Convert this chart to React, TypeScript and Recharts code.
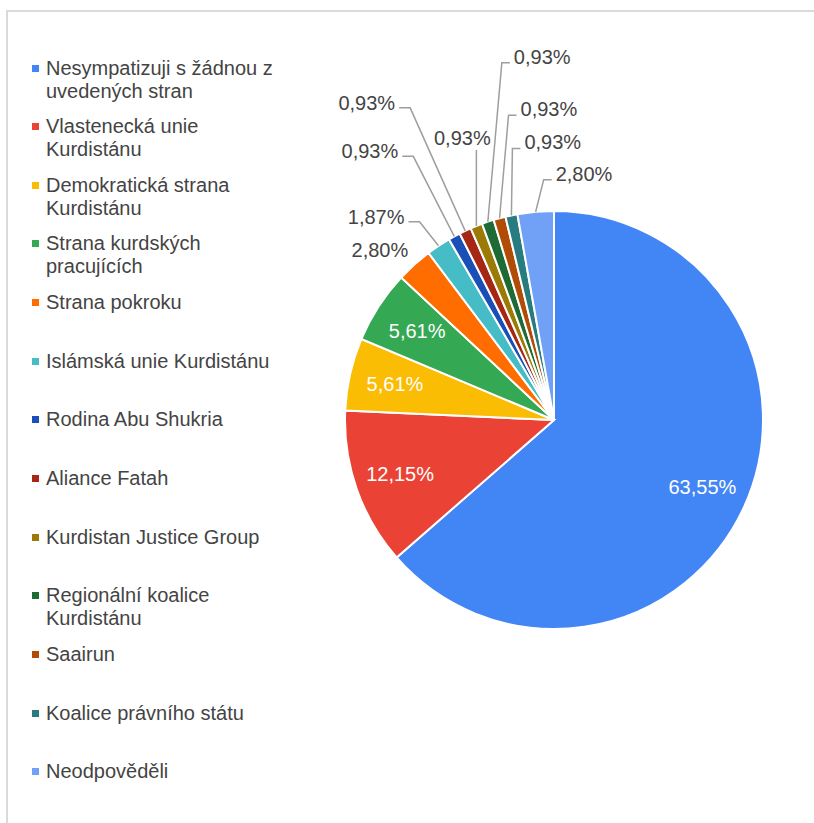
import { Legend, Pie, PieChart, Cell } from "recharts";

const parties = [
  "Nesympatizuji s žádnou z uvedených stran",
  "Vlastenecká unie Kurdistánu",
  "Demokratická strana Kurdistánu",
  "Strana kurdských pracujících",
  "Strana pokroku",
  "Islámská unie Kurdistánu",
  "Rodina Abu Shukria",
  "Aliance Fatah",
  "Kurdistan Justice Group",
  "Regionální koalice Kurdistánu",
  "Saairun",
  "Koalice právního státu",
  "Neodpověděli",
];

const shares = [63.55, 12.15, 5.61, 5.61, 2.8, 1.87, 0.93, 0.93, 0.93, 0.93, 0.93, 0.93, 2.8];

const colors = [
  "#4285f4", "#ea4335", "#fbbc04", "#34a853", "#ff6d01", "#46bdc6",
  "#1a4fb8", "#a52714", "#9c7a06", "#1e6b35", "#b04c06", "#287c7f", "#70a1f6",
];

const data = parties.map((name, i) => ({ name, value: shares[i] }));

// leader-line layout for the small slices (elbow offset from the slice edge)
const callouts: Record<number, { side: string; run: number; rise: number }> = {
  4: { side: "near", run: 0, rise: 0 },
  5: { side: "left", run: -19, rise: 24 },
  6: { side: "left", run: -41, rise: 80 },
  7: { side: "left", run: -55, rise: 123 },
  8: { side: "up", run: 0, rise: 76 },
  9: { side: "right", run: 14, rise: 159 },
  10: { side: "right", run: 9, rise: 103 },
  11: { side: "right", run: 1, rise: 67 },
  12: { side: "right", run: 8, rise: 32 },
};

const FONT = "'Liberation Sans', Arial, sans-serif";
const TEXT = "#444";
const RAD = Math.PI / 180;

const fmt = (v: number) => v.toFixed(2).replace(".", ",") + "%";

function renderLabel(props: any) {
  const { cx, cy, midAngle, outerRadius, index, value } = props;
  const cos = Math.cos(-midAngle * RAD);
  const sin = Math.sin(-midAngle * RAD);
  if (value >= 5) {
    const r = outerRadius * 0.78;
    return (
      <text x={cx + r * cos} y={cy + r * sin} fill="#fff" fontSize={20} fontFamily={FONT}
        textAnchor="middle" dominantBaseline="central">
        {fmt(value)}
      </text>
    );
  }
  const ex = cx + outerRadius * cos;
  const ey = cy + outerRadius * sin;
  const c = callouts[index];
  if (!c || c.side === "near") {
    return (
      <text x={ex - 6} y={ey - 15} fill={TEXT} fontSize={20} fontFamily={FONT}
        textAnchor="end" dominantBaseline="central">
        {fmt(value)}
      </text>
    );
  }
  const bx = ex + c.run;
  const by = ey - c.rise;
  let pts = `${ex},${ey} ${bx},${by}`;
  let tx = bx;
  let ty = by - 12;
  let anchor: "start" | "end" | "middle" = "middle";
  if (c.side === "left") {
    pts += ` ${bx - 11},${by}`;
    tx = bx - 15;
    ty = by - 5;
    anchor = "end";
  } else if (c.side === "right") {
    pts += ` ${bx + 8},${by}`;
    tx = bx + 12;
    ty = by - 6;
    anchor = "start";
  } else {
    tx = bx - 14;
  }
  return (
    <g>
      <polyline points={pts} fill="none" stroke="#9e9e9e" strokeWidth={1.5} />
      <text x={tx} y={ty} fill={TEXT} fontSize={20} fontFamily={FONT}
        textAnchor={anchor} dominantBaseline="central">
        {fmt(value)}
      </text>
    </g>
  );
}

function renderLegend(props: any) {
  const items = [...(props.payload || [])].sort(
    (a: any, b: any) => parties.indexOf(a.value) - parties.indexOf(b.value)
  );
  return (
    <div style={{ fontFamily: FONT, fontSize: 20, color: TEXT }}>
      {items.map((entry: any, i: number) => (
        <div key={i} style={{ height: 58.67, display: "flex", alignItems: "flex-start" }}>
          <span style={{ width: 7, height: 7, background: entry.color, marginTop: 8, marginRight: 7, flex: "none" }} />
          <span style={{ width: 238, lineHeight: "23px" }}>{entry.value}</span>
        </div>
      ))}
    </div>
  );
}

export default function App() {
  return (
    <div
      style={{
        position: "absolute",
        left: 6,
        top: 10,
        width: 808,
        height: 813,
        borderTop: "2px solid #dadada",
        borderLeft: "2px solid #dadada",
        boxSizing: "border-box",
        background: "#fff",
      }}
    >
      <PieChart width={806} height={811} margin={{ top: 0, right: 0, bottom: 0, left: 0 }}>
        <Pie
          data={data}
          dataKey="value"
          nameKey="name"
          cx={546}
          cy={408}
          outerRadius={209}
          startAngle={90}
          endAngle={-270}
          stroke="#fff"
          strokeWidth={2}
          label={renderLabel}
          labelLine={false}
          isAnimationActive={false}
        >
          {data.map((d, i) => (
            <Cell key={d.name} fill={colors[i]} />
          ))}
        </Pie>
        <Legend
          layout="vertical"
          align="center"
          verticalAlign="middle"
          itemSorter={null}
          content={renderLegend}
          wrapperStyle={{ left: 24, top: 44.5, width: 270 }}
        />
      </PieChart>
    </div>
  );
}
